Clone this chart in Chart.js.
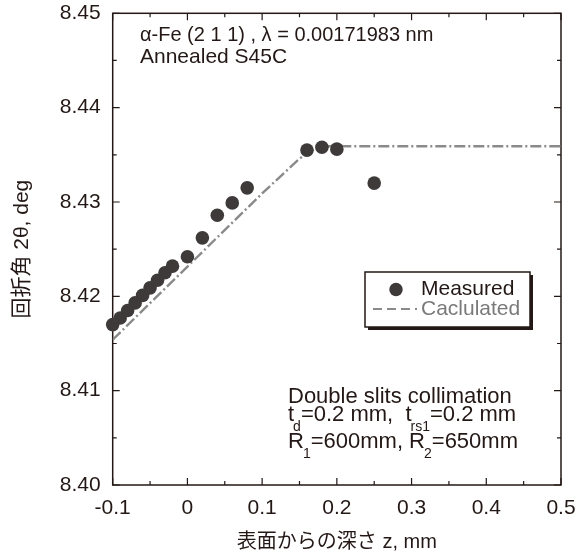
<!DOCTYPE html>
<html>
<head>
<meta charset="utf-8">
<script src="https://cdn.jsdelivr.net/npm/chart.js@4/dist/chart.umd.min.js"></script>
<style>
  html, body { margin: 0; padding: 0; background: #ffffff; }
  #wrap { width: 585px; height: 560px; position: relative; }
</style>
</head>
<body>
<div id="wrap"><canvas id="c" width="585" height="560"></canvas></div>
<script>
// ---- data ----
const measuredX = [-0.1, -0.09, -0.08, -0.07, -0.06, -0.05, -0.04, -0.03, -0.02, 0.0, 0.02, 0.04, 0.06, 0.08, 0.16, 0.18, 0.20, 0.25];
const measuredY = [8.4170, 8.4177, 8.4185, 8.4193, 8.4201, 8.4209, 8.4217, 8.4225, 8.4232, 8.4242, 8.4262, 8.4286, 8.4299, 8.4315, 8.4355, 8.4358, 8.4356, 8.4320];
const calcX = [-0.1, 0.1, 0.15, 0.17, 0.19, 0.5];
const calcY = [8.4154, 8.4309, 8.4346, 8.4356, 8.4359, 8.4359];
const xTickValues = [-0.1, 0, 0.1, 0.2, 0.3, 0.4, 0.5];
const xTickLabels = ['-0.1', '0', '0.1', '0.2', '0.3', '0.4', '0.5'];
const yTickValues = [8.40, 8.41, 8.42, 8.43, 8.44, 8.45];
const yTickLabels = ['8.40', '8.41', '8.42', '8.43', '8.44', '8.45'];
const seriesNames = ['Measured', 'Caclulated'];
const xTitle = '表面からの深さ z, mm';
const yTitle = '回折角 2θ, deg';
const noteTop = ['α-Fe (2 1 1) , λ = 0.00171983 nm', 'Annealed S45C'];

const FONT = '"Liberation Sans", Arial, "Noto Sans CJK JP", sans-serif';
const INK = '#231815';
const DOT = '#3f3a3a';
const GRAY = '#8a8a8a';

const framePlugin = {
  id: 'frame',
  beforeDatasetsDraw(chart) {
    const {ctx, chartArea: a, scales: {x, y}} = chart;
    ctx.save();
    ctx.strokeStyle = INK;
    ctx.lineWidth = 1.5;
    ctx.strokeRect(a.left, a.top, a.right - a.left, a.bottom - a.top);
    ctx.lineWidth = 1.2;
    const major = 7, minor = 4;
    ctx.beginPath();
    xTickValues.forEach((v, i) => {
      const px = x.getPixelForValue(v);
      ctx.moveTo(px, a.bottom); ctx.lineTo(px, a.bottom - major);
      ctx.moveTo(px, a.top); ctx.lineTo(px, a.top + major);
      if (i < xTickValues.length - 1) {
        const m = x.getPixelForValue((v + xTickValues[i + 1]) / 2);
        ctx.moveTo(m, a.bottom); ctx.lineTo(m, a.bottom - minor);
        ctx.moveTo(m, a.top); ctx.lineTo(m, a.top + minor);
      }
    });
    yTickValues.forEach((v, i) => {
      const py = y.getPixelForValue(v);
      ctx.moveTo(a.left, py); ctx.lineTo(a.left + major, py);
      ctx.moveTo(a.right, py); ctx.lineTo(a.right - major, py);
      if (i < yTickValues.length - 1) {
        const m = y.getPixelForValue((v + yTickValues[i + 1]) / 2);
        ctx.moveTo(a.left, m); ctx.lineTo(a.left + minor, m);
        ctx.moveTo(a.right, m); ctx.lineTo(a.right - minor, m);
      }
    });
    ctx.stroke();
    ctx.restore();
  },
  afterDraw(chart) {
    const {ctx} = chart;
    ctx.save();
    ctx.fillStyle = INK;
    ctx.textBaseline = 'middle';
    ctx.textAlign = 'left';
    ctx.font = '20px ' + FONT;
    ctx.fillText(noteTop[0], 140, 35);
    ctx.font = '21px ' + FONT;
    ctx.fillText(noteTop[1], 140, 57);

    // bottom-right note with subscripts
    const big = '22px ' + FONT, small = '14px ' + FONT;
    function runs(parts, x0, yMain) {
      let xx = x0;
      parts.forEach(p => {
        ctx.font = p.sub ? small : big;
        ctx.fillText(p.t, xx + (p.sub ? -1 : 0), yMain + (p.sub ? 12 : 0));
        xx += ctx.measureText(p.t).width + (p.sub ? -1 : 0);
      });
    }
    ctx.font = big;
    ctx.fillText('Double slits collimation', 288, 397);
    runs([{t: 't'}, {t: 'd', sub: true}, {t: '=0.2 mm,  t'}, {t: 'rs1', sub: true}, {t: '=0.2 mm'}], 288, 415);
    runs([{t: 'R'}, {t: '1', sub: true}, {t: '=600mm, R'}, {t: '2', sub: true}, {t: '=650mm'}], 288, 442);

    // legend box
    const L = 365, T = 272, W = 165, H = 55;
    ctx.fillStyle = INK;
    ctx.fillRect(L + 3, T + 3, W, H);
    ctx.fillStyle = '#ffffff';
    ctx.fillRect(L, T, W, H);
    ctx.strokeStyle = INK;
    ctx.lineWidth = 1.5;
    ctx.strokeRect(L, T, W, H);
    ctx.fillStyle = DOT;
    ctx.beginPath(); ctx.arc(396, 289.5, 6.7, 0, Math.PI * 2); ctx.fill();
    ctx.strokeStyle = GRAY;
    ctx.lineWidth = 2.2;
    ctx.setLineDash([9, 5]);
    ctx.beginPath(); ctx.moveTo(373, 309); ctx.lineTo(417, 309); ctx.stroke();
    ctx.setLineDash([]);
    ctx.font = '21px ' + FONT;
    ctx.fillStyle = INK;
    ctx.fillText(seriesNames[0], 421, 289.5);
    ctx.fillStyle = '#7a7a7a';
    ctx.fillText(seriesNames[1], 421, 309);
    ctx.restore();
  }
};

new Chart(document.getElementById('c'), {
  type: 'scatter',
  data: {
    datasets: [
      {
        label: seriesNames[1],
        data: calcX.map((v, i) => ({x: v, y: calcY[i]})),
        showLine: true,
        borderColor: GRAY,
        borderWidth: 2.4,
        borderDash: [11, 3, 2, 3],
        pointRadius: 0,
        tension: 0,
        order: 2
      },
      {
        label: seriesNames[0],
        data: measuredX.map((v, i) => ({x: v, y: measuredY[i]})),
        showLine: false,
        backgroundColor: DOT,
        borderWidth: 0,
        pointRadius: 6.8,
        clip: false,
        order: 1
      }
    ]
  },
  options: {
    responsive: false,
    animation: false,
    devicePixelRatio: 1,
    layout: {padding: {left: 0, top: 13.3, right: 24, bottom: 0}},
    plugins: {legend: {display: false}, tooltip: {enabled: false}},
    scales: {
      x: {
        type: 'linear',
        min: -0.1, max: 0.5,
        afterBuildTicks: s => { s.ticks = xTickValues.map(v => ({value: v})); },
        afterFit: s => { s.height = 75; s.paddingLeft = 0; s.paddingRight = 0; },
        grid: {display: false, drawTicks: false},
        border: {display: false},
        ticks: {
          padding: 11,
          color: INK,
          font: {size: 21, family: FONT},
          callback: (v, i) => xTickLabels[i],
          maxRotation: 0
        },
        title: {display: true, text: xTitle, color: INK, font: {size: 20, family: FONT}, padding: {top: 0, bottom: 6}}
      },
      y: {
        type: 'linear',
        min: 8.40, max: 8.45,
        afterBuildTicks: s => { s.ticks = yTickValues.map(v => ({value: v})); },
        afterFit: s => { s.width = 112.7; s.paddingTop = 0; s.paddingBottom = 0; },
        grid: {display: false, drawTicks: false},
        border: {display: false},
        ticks: {
          padding: 12,
          color: INK,
          font: {size: 21, family: FONT},
          callback: (v, i) => yTickLabels[i]
        },
        title: {display: true, text: yTitle, color: INK, font: {size: 21, family: FONT}, padding: {top: 10, bottom: 0}}
      }
    }
  },
  plugins: [framePlugin]
});
</script>
</body>
</html>
